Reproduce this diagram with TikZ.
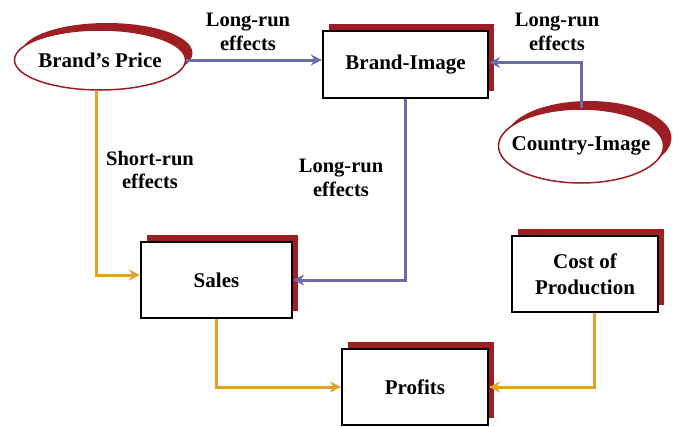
\documentclass[tikz,border=0pt]{standalone}
\usepackage{fontspec}
\setmainfont{Liberation Serif}
\usetikzlibrary{shapes.geometric,shadows,arrows.meta}
\definecolor{shred}{HTML}{9E1F23}
\definecolor{lnblue}{HTML}{6B6BAA}
\definecolor{lnorange}{HTML}{E3A02A}
\begin{document}
\begin{tikzpicture}[x=1pt,y=-1pt,
  txt/.style={font=\fontsize{21}{24}\selectfont\bfseries, align=center, inner sep=0pt},
  boxnode/.style={txt, draw=black, line width=2.2pt, fill=white,
    general shadow={shadow xshift=6pt, shadow yshift=7pt, fill=shred, rounded corners=1pt}},
  ellnode/.style={txt, ellipse, draw=shred, line width=1.5pt, fill=white, inner xsep=-20pt,
    general shadow={shadow xshift=7pt, shadow yshift=7pt, fill=shred}},
  bluearrow/.style={draw=lnblue, line width=3pt, -{Stealth[length=11pt,width=11pt]}},
  orangearrow/.style={draw=lnorange, line width=3pt, -{Stealth[length=11pt,width=11pt]}},
  lbl/.style={font=\fontsize{20.5}{23.5}\selectfont\bfseries, align=center, inner sep=0pt}]
\useasboundingbox (0,0) rectangle (674,426);

\node[ellnode, minimum width=171pt, minimum height=60pt] (bp) at (100,60) {Brand’s Price};
\node[ellnode, minimum width=165pt, minimum height=74pt, general shadow={shadow xshift=8pt, shadow yshift=8pt, fill=shred}] (ci) at (581,146) {Country-Image};

\node[boxnode, minimum width=165pt, minimum height=67pt] (bi) at (405.5,64.5) {Brand-Image};
\node[boxnode, minimum width=151pt, minimum height=76pt] (sales) at (216.5,280) {Sales};
\node[boxnode, minimum width=146pt, minimum height=76pt] (profits) at (415,387) {Profits};
\node[boxnode, minimum width=146pt, minimum height=76pt, font=\fontsize{21}{26}\selectfont\bfseries] (cost) at (585,274) {Cost of\\Production};

\draw[bluearrow] (bp.east) -- (bp.east -| bi.west);
\draw[bluearrow] (ci.north) |- ([yshift=2pt]bi.east);
\draw[bluearrow] (bi.south) |- (sales.east);
\draw[orangearrow] ([xshift=-4pt]bp.south) |- ([yshift=5pt]sales.west);
\draw[orangearrow] (sales.south) |- (profits.west);
\draw[orangearrow] ([xshift=9pt]cost.south) |- (profits.east);

\node[lbl] (l1) at (248,32) {Long-run\\effects};
\node[lbl] (l2) at (557,32) {Long-run\\effects};
\node[lbl] (l3) at (341,178) {Long-run\\effects};
\node[lbl] (l4) at (150,170) {Short-run\\effects};
\end{tikzpicture}
\end{document}
